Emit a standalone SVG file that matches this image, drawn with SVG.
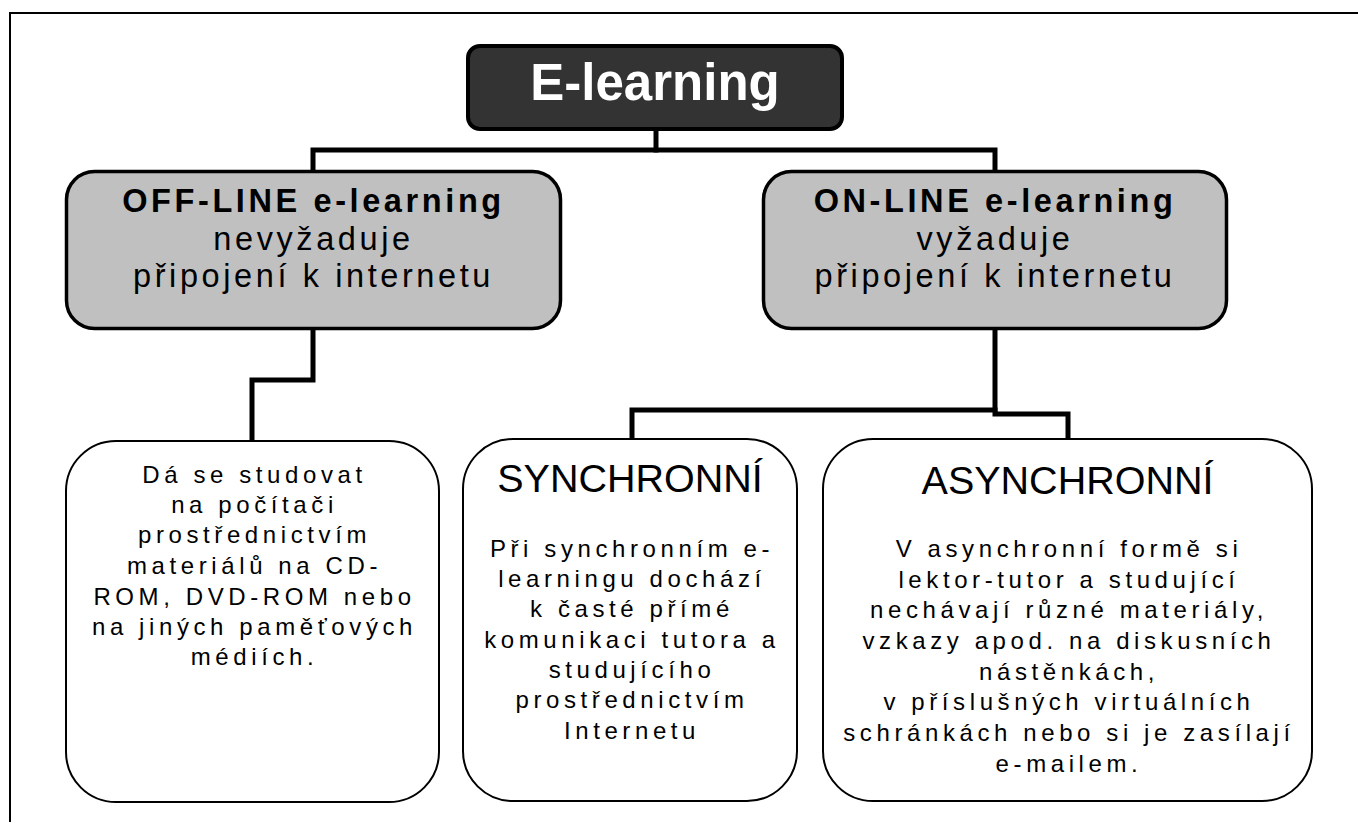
<svg xmlns="http://www.w3.org/2000/svg" width="1358" height="823" viewBox="0 0 1358 823">
  <style>
    .frame { fill: none; stroke: #000; stroke-width: 2; }
    .conn { fill: none; stroke: #000; stroke-width: 5; stroke-linejoin: miter; stroke-linecap: square; }
    .root { fill: #333333; stroke: #000; stroke-width: 4; }
    .cat { fill: #c0c0c0; stroke: #000; stroke-width: 3.5; }
    .leaf { fill: #fff; stroke: #000; stroke-width: 2; }
    text { font-family: "Liberation Sans", Arial, sans-serif; fill: #000; text-anchor: middle; }
    .roottxt { font-size: 51px; font-weight: bold; fill: #fff; }
    .cattxt { font-size: 32.5px; letter-spacing: 3.6px; }
    .b { font-weight: bold; }
    .head { font-size: 39.5px; }
    .desc { font-size: 24px; letter-spacing: 4.6px; }
  </style>
  <rect width="1358" height="823" fill="#fff"/>
  <path class="frame" d="M10,822 V13 H1358"/>

  <g id="connectors">
    <path class="conn" d="M656,132 V150"/>
    <path class="conn" d="M313,168 V150 H995 V168"/>
    <path class="conn" d="M313,332 V380 H252 V438"/>
    <path class="conn" d="M995,332 V414 H1068 V437"/>
    <path class="conn" d="M632,437 V410 H995"/>
  </g>

  <g id="node-elearning">
    <rect class="root" x="468" y="46" width="374" height="83" rx="12"/>
    <text class="roottxt" x="655" y="100">E-learning</text>
  </g>

  <g id="node-offline">
    <rect class="cat" x="66.5" y="171.5" width="494" height="157" rx="28"/>
    <text class="cattxt" x="313.5" y="212"><tspan class="b">OFF-LINE e-learning</tspan></text>
    <text class="cattxt" x="313.5" y="250">nevyžaduje</text>
    <text class="cattxt" x="313.5" y="287">připojení k internetu</text>
  </g>

  <g id="node-online">
    <rect class="cat" x="763.5" y="171.5" width="463" height="157" rx="28"/>
    <text class="cattxt" x="995" y="212"><tspan class="b">ON-LINE e-learning</tspan></text>
    <text class="cattxt" x="995" y="250">vyžaduje</text>
    <text class="cattxt" x="995" y="287">připojení k internetu</text>
  </g>

  <g id="node-offline-desc">
    <rect class="leaf" x="66" y="441" width="373" height="361" rx="50"/>
    <text class="desc" x="254.5" y="483">Dá se studovat</text>
    <text class="desc" x="254.5" y="513">na počítači</text>
    <text class="desc" x="254.5" y="543">prostřednictvím</text>
    <text class="desc" x="254.5" y="574">materiálů na CD-</text>
    <text class="desc" x="254.5" y="605">ROM, DVD-ROM nebo</text>
    <text class="desc" x="254.5" y="635">na jiných paměťových</text>
    <text class="desc" x="254.5" y="665">médiích.</text>
  </g>

  <g id="node-synchronni">
    <rect class="leaf" x="463" y="439" width="334" height="362" rx="50"/>
    <text class="head" x="630" y="492">SYNCHRONNÍ</text>
    <text class="desc" x="632" y="557">Při synchronním e-</text>
    <text class="desc" x="632" y="587">learningu dochází</text>
    <text class="desc" x="632" y="617">k časté přímé</text>
    <text class="desc" x="632" y="648">komunikaci tutora a</text>
    <text class="desc" x="632" y="678">studujícího</text>
    <text class="desc" x="632" y="708">prostřednictvím</text>
    <text class="desc" x="632" y="739">Internetu</text>
  </g>

  <g id="node-asynchronni">
    <rect class="leaf" x="823" y="439" width="489" height="362" rx="50"/>
    <text class="head" x="1067.5" y="494">ASYNCHRONNÍ</text>
    <text class="desc" x="1069" y="557">V asynchronní formě si</text>
    <text class="desc" x="1069" y="588">lektor-tutor a studující</text>
    <text class="desc" x="1069" y="618">nechávají různé materiály,</text>
    <text class="desc" x="1069" y="649">vzkazy apod. na diskusních</text>
    <text class="desc" x="1069" y="680">nástěnkách,</text>
    <text class="desc" x="1069" y="710">v příslušných virtuálních</text>
    <text class="desc" x="1069" y="741">schránkách nebo si je zasílají</text>
    <text class="desc" x="1069" y="772">e-mailem.</text>
  </g>
</svg>
